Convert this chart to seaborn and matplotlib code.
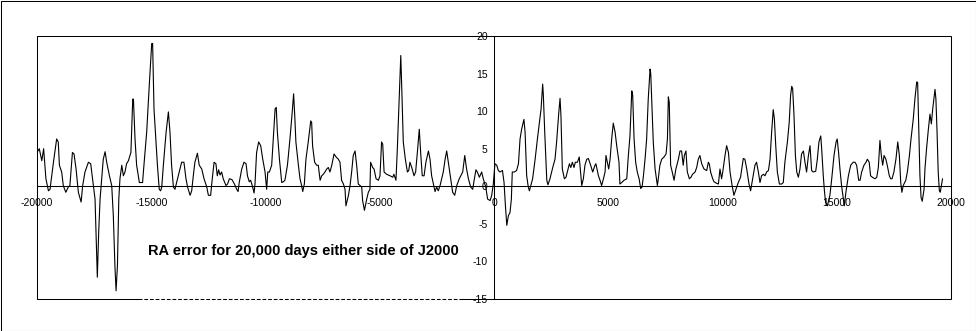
import matplotlib
matplotlib.use("Agg")
import matplotlib.pyplot as plt
from matplotlib.patches import Rectangle
import numpy as np
import pandas as pd
import seaborn as sns

# (days from J2000, RA error), three stretches
early = [(-20000, 4.5), (-19900, 5.0), (-19790, 3.4), (-19710, 5.0), (-19610, 1.0), (-19500, -0.6), (-19430, -0.4),
         (-19280, 3.2), (-19140, 6.3), (-19070, 5.9), (-19020, 2.8), (-18920, 1.9), (-18850, 0.1), (-18740, -0.8),
         (-18630, -0.1), (-18560, 0.1), (-18450, 4.5), (-18380, 4.3), (-18290, 2.3), (-18190, -0.8), (-18070, -2.1),
         (-18000, 0.1), (-17900, 1.9), (-17750, 3.2), (-17650, 3.0), (-17530, 0.1), (-17460, -1.7), (-17390, -8.8),
         (-17360, -12.1), (-17300, -6.1), (-17240, -1.7), (-17170, 1.0), (-17100, 3.6), (-17020, 4.6), (-16950, 3.2),
         (-16830, 1.4), (-16730, 0.1), (-16660, -3.9), (-16590, -10.6), (-16540, -13.9), (-16480, -10.6),
         (-16420, -1.7), (-16370, 1.0), (-16290, 2.8), (-16220, 1.4), (-16150, 1.9), (-16080, 3.0), (-16000, 3.4),
         (-15930, 4.1), (-15890, 4.5), (-15810, 11.6), (-15780, 11.6), (-15710, 6.3), (-15640, 2.8), (-15520, 0.5),
         (-15380, 0.5), (-15320, 2.8), (-15200, 7.2), (-15080, 13.8), (-14980, 19.0), (-14940, 19.0),
         (-14880, 10.3), (-14790, 5.9), (-14730, 2.8), (-14650, -0.4), (-14590, -0.6), (-14540, -0.1),
         (-14470, 2.8), (-14350, 7.2), (-14250, 9.9), (-14180, 7.2), (-14110, 2.8), (-14030, -0.1), (-13960, -0.4),
         (-13890, 0.5), (-13740, 2.3), (-13670, 3.2), (-13570, 3.2), (-13480, 1.0), (-13410, -0.1), (-13300, -1.2),
         (-13230, -0.6), (-13160, 1.4), (-13090, 3.2), (-12980, 4.4), (-12900, 2.8), (-12790, 2.3), (-12690, 1.0),
         (-12570, -0.1), (-12500, -1.2), (-12400, -1.2), (-12330, 1.0), (-12250, 3.2), (-12170, 3.0),
         (-12110, 1.4), (-12050, 2.2), (-11990, 1.5), (-11920, 1.9), (-11850, 1.0), (-11730, 0.1), (-11660, 0.3),
         (-11580, 1.0), (-11470, 0.9), (-11360, 0.3), (-11260, -0.4), (-11200, -0.7), (-11150, 0.5),
         (-11040, 2.3), (-10940, 3.2), (-10850, 3.0), (-10790, 1.4), (-10710, 0.6), (-10650, 0.8), (-10580, 0.1),
         (-10500, -0.9), (-10460, 0.3), (-10390, 4.5), (-10300, 5.9), (-10210, 5.4), (-10120, 3.6),
         (-10020, 1.9), (-9950, -0.4), (-9900, 1.9), (-9830, 1.9), (-9730, 2.8), (-9660, 6.3), (-9580, 10.3),
         (-9530, 10.5), (-9480, 7.2), (-9390, 3.6), (-9290, 0.5), (-9220, 0.6), (-9150, 0.8), (-9040, 2.8),
         (-8930, 6.3), (-8830, 9.9), (-8770, 12.3), (-8720, 9.4), (-8670, 5.9), (-8560, 2.8), (-8490, 1.0),
         (-8420, 0.1), (-8370, -0.7), (-8300, 0.3), (-8230, 3.6), (-8130, 5.9), (-8020, 8.7), (-7980, 8.5),
         (-7940, 5.4), (-7850, 3.2), (-7760, 2.8), (-7690, 2.8)]

middle = [(-7610, 0.8), (-7540, 1.4), (-7470, 1.6), (-7400, 1.9), (-7320, 2.3), (-7250, 2.5), (-7180, 1.9),
          (-7100, 2.8), (-7000, 4.3), (-6910, 3.9), (-6810, 3.6), (-6740, 3.2), (-6670, 0.8), (-6590, 0.3),
          (-6520, -0.4), (-6480, -2.6), (-6370, -1.2), (-6300, 0.1), (-6230, 1.9), (-6160, 4.1), (-6080, 4.7),
          (-6010, 2.8), (-5940, 0.3), (-5860, 0.1), (-5790, -0.1), (-5750, -1.9), (-5670, -3.2), (-5570, -1.7),
          (-5500, -0.8), (-5430, -0.4), (-5400, 3.2), (-5310, 2.5), (-5250, 2.3), (-5160, 1.0), (-5060, 0.8),
          (-4990, 1.4), (-4920, 5.9), (-4870, 5.6), (-4810, 1.9), (-4700, 1.6), (-4550, 1.4), (-4430, 1.2),
          (-4380, 1.6), (-4290, 0.8), (-4230, 5.0), (-4140, 12.5), (-4080, 17.4), (-4040, 13.4), (-3970, 5.9),
          (-3880, 3.6), (-3790, 1.9), (-3730, 2.1), (-3680, 3.2), (-3600, 2.5), (-3500, 1.4), (-3430, 1.9),
          (-3340, 5.0), (-3270, 7.6), (-3210, 4.5), (-3140, 1.4), (-3060, 1.4), (-2980, 3.2), (-2870, 4.7),
          (-2800, 3.6), (-2730, 1.4), (-2650, 0.3), (-2580, -0.7), (-2510, -0.1), (-2440, -0.6), (-2360, 0.1),
          (-2290, 1.0), (-2220, 1.9), (-2140, 3.6), (-2070, 4.7), (-2000, 3.2), (-1900, 1.0), (-1810, -0.8),
          (-1720, -1.2), (-1630, 0.1), (-1520, 1.0), (-1370, 1.9), (-1280, 4.1), (-1200, 2.3), (-1120, 1.0),
          (-1020, -0.1), (-930, -0.4), (-870, 0.8), (-790, 2.2), (-730, 1.9), (-640, 1.2), (-540, 1.9),
          (-470, 1.0), (-360, -0.1), (-280, -1.7), (-170, -1.9), (-100, -1.2), (-30, 0.3), (40, 3.0), (120, 2.8),
          (190, 2.1), (260, 1.9), (370, 2.1), (440, 0.5), (500, -2.6), (560, -5.2), (630, -3.9), (700, -3.5),
          (760, -1.7), (800, 1.9), (890, 1.9), (990, 2.1), (1070, 3.0), (1140, 6.3), (1210, 7.6), (1310, 8.9),
          (1360, 7.2), (1430, 1.4), (1500, -0.1), (1550, -0.6), (1610, 0.1), (1690, 1.0), (1800, 3.6),
          (1900, 6.3), (1990, 8.5), (2060, 10.3), (2130, 13.6), (2160, 12.1), (2220, 7.2), (2310, 0.8),
          (2360, 0.2), (2450, 1.0), (2570, 2.5), (2670, 3.6), (2740, 5.9), (2830, 9.6), (2890, 11.7), (2930, 9.4),
          (2990, 2.3), (3080, 1.0), (3150, 1.2), (3210, 1.9), (3300, 3.0), (3360, 2.5), (3430, 3.2), (3500, 2.5),
          (3560, 3.2), (3650, 3.2), (3730, 3.9), (3840, 0.1), (3910, 1.0), (3980, 2.8), (4060, 3.6), (4130, 3.7),
          (4230, 2.8), (4320, 1.9), (4420, 2.8), (4460, 3.0), (4570, 1.4), (4640, 0.8), (4710, 0.1), (4790, 1.0),
          (4860, 1.9), (4900, 4.1), (4960, 3.2), (5020, 2.3), (5080, 3.6), (5150, 6.3), (5220, 8.4), (5300, 7.2),
          (5370, 5.4), (5470, 3.2), (5510, 0.3), (5590, 0.5), (5690, 0.8), (5810, 1.0), (5880, 4.1), (5950, 6.7),
          (6030, 12.7), (6070, 12.1), (6130, 6.3), (6200, 3.2), (6270, 1.9), (6350, 1.0), (6420, -0.3),
          (6480, -0.1), (6540, 1.4), (6610, 3.6), (6680, 6.3), (6750, 11.6), (6830, 15.6)]

late = [(6860, 15.0), (6900, 11.6), (6970, 5.9), (7050, 2.3), (7150, 0.1), (7190, 1.0), (7260, 2.8), (7340, 3.6),
        (7440, 3.9), (7530, 4.3), (7590, 6.3), (7630, 11.9), (7670, 11.2), (7730, 2.8), (7800, 1.9), (7880, 0.8),
        (7960, 2.3), (8070, 3.6), (8140, 4.7), (8210, 4.7), (8280, 2.8), (8330, 4.1), (8400, 4.7), (8460, 1.9),
        (8550, 1.0), (8620, 1.2), (8690, 1.6), (8800, 1.9), (8870, 2.5), (8940, 3.6), (9010, 4.1), (9090, 3.0),
        (9190, 2.3), (9310, 2.1), (9380, 3.2), (9420, 3.0), (9480, 1.9), (9570, 1.0), (9630, 0.6), (9740, 0.4),
        (9820, 0.3), (9890, 2.3), (9960, 1.0), (10010, 1.9), (10110, 4.1), (10180, 5.4), (10260, 4.5),
        (10330, 1.9), (10420, 0.1), (10500, -1.2), (10590, -0.4), (10690, 0.5), (10790, 1.2), (10910, 3.7),
        (10980, 3.6), (11060, 2.3), (11160, 0.3), (11230, -0.6), (11320, 1.0), (11420, 2.8), (11490, 3.2),
        (11570, 1.9), (11640, 0.5), (11710, 1.4), (11790, 1.6), (11860, 1.4), (11930, 1.9), (12010, 2.1),
        (12080, 3.6), (12150, 7.2), (12220, 10.2), (12270, 9.0), (12330, 5.4), (12400, 1.9), (12490, 0.3),
        (12590, 0.3), (12660, 0.5), (12730, 3.2), (12840, 5.9), (12920, 8.5), (12980, 12.1), (13030, 13.3),
        (13070, 13.0), (13130, 9.4), (13190, 4.1), (13250, 1.9), (13320, 1.2), (13390, 2.3), (13460, 4.3),
        (13540, 4.7), (13610, 3.2), (13680, 1.9), (13760, 4.1), (13830, 5.4), (13900, 2.1), (13970, 1.9),
        (14080, 2.0), (14150, 3.6), (14220, 5.9), (14300, 6.7), (14340, 5.0), (14410, 1.4), (14460, -0.6),
        (14510, -2.1), (14590, -2.6), (14700, -1.2), (14780, 1.0), (14880, 4.1), (14970, 5.9), (15020, 6.3),
        (15080, 4.5), (15140, 2.3), (15210, 0.1), (15290, -1.7), (15330, -2.6), (15400, -0.8), (15510, 1.4),
        (15610, 2.8), (15720, 3.2), (15800, 3.2), (15870, 2.8), (15960, 0.8), (16020, 0.8), (16090, 1.9),
        (16190, 2.8), (16280, 3.2), (16340, 3.6), (16420, 3.2), (16480, 1.4), (16560, 1.2), (16670, 1.0),
        (16750, 1.2), (16820, 2.5), (16890, 6.1), (16950, 4.1), (17010, 2.8), (17070, 4.1), (17150, 3.6),
        (17210, 2.8), (17300, 1.4), (17360, 1.0), (17420, 1.0), (17500, 1.9), (17590, 3.6), (17670, 5.9),
        (17740, 4.1), (17800, 0.5), (17850, -0.8), (17910, 0.1), (18020, 0.8), (18090, 1.9), (18180, 4.1),
        (18250, 6.3), (18350, 9.0), (18420, 11.6), (18500, 13.9), (18540, 13.8), (18580, 9.0), (18640, 1.4),
        (18690, -1.5), (18740, -2.0), (18820, -0.4), (18860, 2.3), (18930, 5.0), (19010, 7.6), (19080, 9.6),
        (19140, 8.3), (19200, 10.3), (19300, 12.9), (19340, 11.6), (19390, 7.2), (19440, 1.9), (19490, -0.6),
        (19530, -0.8), (19590, 0.3), (19630, 1.0)]

x_ticks = [-20000, -15000, -10000, -5000, 0, 5000, 10000, 15000, 20000]
y_ticks = [-15, -10, -5, 0, 5, 10, 15, 20]
title = "RA error for 20,000 days either side of J2000"

df = pd.DataFrame(early + middle + late, columns=["day", "ra_error"])

sns.set_style("white")
plt.rcParams["font.family"] = ["Liberation Sans", "DejaVu Sans"]
plt.rcParams["axes.unicode_minus"] = False
plt.rcParams["text.color"] = "black"

fig = plt.figure(figsize=(9.76, 3.31), dpi=100)
ax = fig.add_axes([37 / 976, 32 / 331, 914 / 976, 263 / 331])

sns.lineplot(data=df, x="day", y="ra_error", ax=ax, color="black", lw=0.8,
             sort=False, estimator=None)

ax.set_xlim(-20000, 20000)
ax.set_ylim(-15, 20)
ax.set_xticks(x_ticks)
ax.set_yticks(y_ticks)
ax.set_xlabel("")
ax.set_ylabel("")

# axes cross at zero, like the spreadsheet chart
for side in ["top", "right"]:
    ax.spines[side].set_visible(False)
ax.spines["left"].set_position(("data", 0))
ax.spines["bottom"].set_position(("data", 0))
for side in ["left", "bottom"]:
    ax.spines[side].set_linewidth(0.75)
    ax.spines[side].set_color("black")
ax.tick_params(direction="inout", length=5, width=0.75, colors="black", labelsize=7.5)
ax.tick_params(axis="x", pad=6)
ax.tick_params(axis="y", pad=2)

# plot-area frame and the outer border
ax.add_patch(Rectangle((0, 0), 1, 1, transform=ax.transAxes, fill=False,
                       lw=0.75, ec="black", clip_on=False, zorder=5))
fig.patches.append(Rectangle((0.5 / 976, 0.5 / 331), 975 / 976, 330 / 331, transform=fig.transFigure,
                             fill=False, lw=0.75, ec="black"))

# broken bit of the bottom frame
ax.plot([-15400, -1500], [-15, -15], color="white", lw=0.9,
        linestyle=(0, (1.5, 3)), clip_on=False, zorder=6)

ax.text(-8360, -8.6, title, ha="center", va="center", fontsize=10.5,
        fontweight="bold", color="black")

fig.savefig("out.png", dpi=100)
